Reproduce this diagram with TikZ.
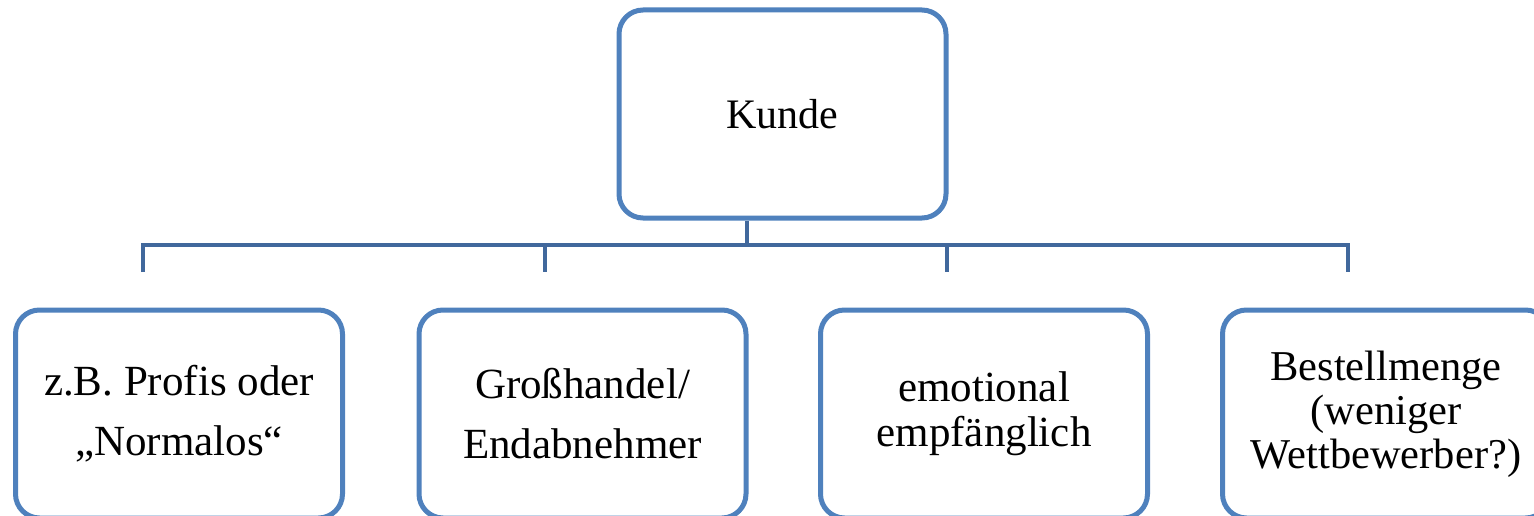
\documentclass[tikz,border=0pt]{standalone}
\usepackage{fontspec}
\setmainfont{Liberation Serif}
\definecolor{boxblue}{HTML}{4F81BD}
\definecolor{linkblue}{HTML}{41689C}
\begin{document}
\begin{tikzpicture}[x=1pt,y=-1pt,
  card/.style={draw=boxblue, line width=5pt, rounded corners=24pt, fill=white,
    minimum width=327pt, minimum height=208pt, align=center, inner sep=0pt},
  big/.style={font=\fontsize{43}{60}\selectfont},
  mid/.style={font=\fontsize{43}{45}\selectfont},
  small/.style={font=\fontsize{42.5}{44}\selectfont},
  link/.style={draw=linkblue, line width=4.5pt}]
\useasboundingbox (0,0) rectangle (1534,516);
\node[card,font=\fontsize{42}{50}\selectfont] (top) at (782.5,114) {Kunde};
\node[card,big] (b1) at (179,414) {z.B. Profis oder\\„Normalos“};
\node[card,big] (b2) at (582.5,414) {Großhandel/\\Endabnehmer};
\node[card,mid] (b3) at (984,414) {emotional\\empfänglich};
\node[card,small] (b4) at (1386,414) {Bestellmenge\\(weniger\\Wettbewerber?)};
\coordinate (hub) at (747,245);
\coordinate (l1) at (143,245);
\coordinate (l2) at (545,245);
\coordinate (l3) at (947,245);
\coordinate (l4) at (1348,245);
\coordinate (e1) at (143,272);
\coordinate (e2) at (545,272);
\coordinate (e3) at (947,272);
\coordinate (e4) at (1348,272);
\draw[link] (top.south -| hub) -- (hub);
\draw[link] (e1) -- (l1) -- (l4) -- (e4);
\draw[link] (l2) -- (e2);
\draw[link] (l3) -- (e3);
\end{tikzpicture}
\end{document}
